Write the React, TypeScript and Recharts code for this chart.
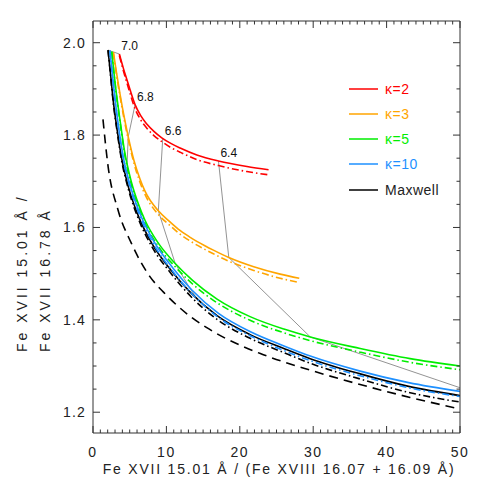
import React from 'react';
import { LineChart, Line, XAxis, YAxis } from 'recharts';

// curve values (x = 15.01/(16.07+16.09), y = 15.01/16.78)
const kappa2X = [3.59, 4.13, 4.6, 5.05, 5.73, 6.5, 7.33, 8.3, 9.37, 10.6, 11.87, 14.15, 17.09, 20.97, 23.92];
const kappa2Solid = [1.9755, 1.945, 1.921, 1.898, 1.866, 1.842, 1.824, 1.808, 1.794, 1.782, 1.772, 1.757, 1.744, 1.732, 1.725];
const kappa2Dash = [1.972, 1.94, 1.914, 1.89, 1.857, 1.833, 1.815, 1.799, 1.786, 1.773, 1.763, 1.747, 1.734, 1.721, 1.714];

const kappa3X = [2.77, 3.2, 3.7, 4.2, 4.82, 5.6, 6.4, 7.1, 8.9, 10.5, 11.9, 13.3, 15.3, 16.4, 18.5, 21.9, 25.5, 28.1];
const kappa3Solid = [1.98, 1.935, 1.887, 1.843, 1.795, 1.744, 1.705, 1.678, 1.636, 1.612, 1.593, 1.578, 1.56, 1.551, 1.535, 1.515, 1.499, 1.49];
const kappa3Dash = [1.978, 1.931, 1.882, 1.838, 1.789, 1.738, 1.698, 1.671, 1.628, 1.604, 1.585, 1.57, 1.552, 1.543, 1.527, 1.507, 1.49, 1.481];

const kappa5X = [2.55, 3.1, 3.7, 4.3, 5.2, 6.2, 7.1, 8.9, 11.2, 13.6, 16.9, 21.4, 26, 29.6, 36.4, 43.2, 50];
const kappa5Solid = [1.981, 1.901, 1.83, 1.765, 1.7, 1.65, 1.615, 1.566, 1.522, 1.485, 1.445, 1.407, 1.38, 1.363, 1.338, 1.316, 1.3];
const kappa5Dash = [1.98, 1.898, 1.826, 1.76, 1.694, 1.644, 1.609, 1.559, 1.515, 1.477, 1.437, 1.399, 1.372, 1.355, 1.33, 1.308, 1.292];

const kappa10X = [2.3, 2.65, 3.0, 3.55, 4.15, 5.05, 6.45, 8.25, 10.85, 13.5, 17.1, 21.6, 26.1, 29.7, 36.4, 43.0, 50];
const kappa10Solid = [1.983, 1.93, 1.878, 1.81, 1.75, 1.692, 1.628, 1.571, 1.513, 1.464, 1.414, 1.373, 1.343, 1.321, 1.289, 1.264, 1.245];
const kappa10Dash = [1.983, 1.928, 1.875, 1.806, 1.745, 1.687, 1.622, 1.564, 1.505, 1.456, 1.405, 1.364, 1.333, 1.311, 1.279, 1.253, 1.234];

const maxwellX = [2.05, 2.4, 2.73, 3.3, 3.9, 4.8, 6.2, 8.0, 10.6, 13.3, 16.9, 21.4, 26.0, 29.6, 36.4, 43.0, 50];
const maxwellSolid = [1.984, 1.93, 1.878, 1.81, 1.75, 1.689, 1.624, 1.566, 1.508, 1.459, 1.409, 1.368, 1.338, 1.316, 1.283, 1.256, 1.236];
const maxwellDash = [1.984, 1.928, 1.875, 1.806, 1.745, 1.684, 1.618, 1.559, 1.501, 1.451, 1.401, 1.36, 1.329, 1.306, 1.272, 1.243, 1.222];

const lowerX = [1.36, 2.05, 3.41, 5.22, 7.78, 9.6, 11.4, 13.2, 15.5, 17.8, 20.5, 22.8, 29.6, 36.4, 43.2, 50];
const lowerY = [1.834, 1.733, 1.638, 1.566, 1.493, 1.46, 1.432, 1.408, 1.383, 1.362, 1.342, 1.327, 1.291, 1.26, 1.232, 1.207];

// isotherms, from kappa=2 down to Maxwell
const isoLabels = ['7.0', '6.8', '6.6', '6.4'];
const iso70X = [3.59, 2.77, 2.55, 2.3, 2.05];
const iso70Y = [1.9755, 1.98, 1.981, 1.983, 1.984];
const iso68X = [5.73, 4.8, 4.65, 4.7, 4.8];
const iso68Y = [1.866, 1.796, 1.74, 1.715, 1.689];
const iso66X = [9.5, 8.9, 11.2, 13.1, 14.1];
const iso66Y = [1.792, 1.636, 1.522, 1.471, 1.447];
const iso64X = [17.09, 18.5, 29.6, 50];
const iso64Y = [1.744, 1.535, 1.363, 1.253];

const xMajor = [0, 10, 20, 30, 40, 50];
const yMajor = [1.2, 1.4, 1.6, 1.8, 2.0];
const xTicks = [0, 1, 2, 3, 4, 5, 6, 7, 8, 9, 10, 11, 12, 13, 14, 15, 16, 17, 18, 19, 20, 21, 22, 23, 24, 25,
  26, 27, 28, 29, 30, 31, 32, 33, 34, 35, 36, 37, 38, 39, 40, 41, 42, 43, 44, 45, 46, 47, 48, 49, 50];
const yTicks = [1.2, 1.25, 1.3, 1.35, 1.4, 1.45, 1.5, 1.55, 1.6, 1.65, 1.7, 1.75, 1.8, 1.85, 1.9, 1.95, 2.0];

const legendNames = ['κ=2', 'κ=3', 'κ=5', 'κ=10', 'Maxwell'];
const RED = '#ff0000';
const ORANGE = '#ffa500';
const GREEN = '#00ee00';
const BLUE = '#1e90ff';
const BLACK = '#000000';
const legendColors = [RED, ORANGE, GREEN, BLUE, BLACK];
const legendText = [RED, ORANGE, GREEN, BLUE, '#222'];

const FONT = '"Liberation Sans", Arial, sans-serif';
const AXIS = '#333';
const PLOT = { left: 93, right: 460, top: 21, bottom: 433 };
const DASHDOT = '7 3 1.5 3';

const pts = (xs: number[], ys: number[]) => xs.map((x, i) => ({ x, y: ys[i] }));
const near = (v: number, list: number[]) => list.some((m) => Math.abs(m - v) < 1e-6);

const BottomTick = (p: any) => {
  const v = p.payload.value;
  const major = near(v, xMajor);
  return (
    <g>
      <line x1={p.x} x2={p.x} y1={PLOT.bottom} y2={PLOT.bottom - (major ? 7 : 3.5)} stroke={AXIS} />
      {major && (
        <text x={p.x} y={PLOT.bottom + 24} textAnchor="middle" fontSize={14} fontFamily={FONT} fill="#222" letterSpacing={1.5}>
          {v}
        </text>
      )}
    </g>
  );
};

const TopTick = (p: any) => {
  const major = near(p.payload.value, xMajor);
  return <line x1={p.x} x2={p.x} y1={PLOT.top} y2={PLOT.top + (major ? 7 : 3.5)} stroke={AXIS} />;
};

const LeftTick = (p: any) => {
  const v = p.payload.value;
  const major = near(v, yMajor);
  return (
    <g>
      <line x1={PLOT.left} x2={PLOT.left + (major ? 7 : 3.5)} y1={p.y} y2={p.y} stroke={AXIS} />
      {major && (
        <text x={PLOT.left - 7} y={p.y + 5} textAnchor="end" fontSize={14} fontFamily={FONT} fill="#222" letterSpacing={1.2}>
          {v.toFixed(1)}
        </text>
      )}
    </g>
  );
};

const RightTick = (p: any) => {
  const major = near(p.payload.value, yMajor);
  return <line x1={PLOT.right} x2={PLOT.right - (major ? 7 : 3.5)} y1={p.y} y2={p.y} stroke={AXIS} />;
};

const XTitle = () => (
  <text x={279} y={474} textAnchor="middle" fontSize={14} fontFamily={FONT} fill="#222" letterSpacing={1.8}>
    Fe XVII 15.01 Å / (Fe XVIII 16.07 + 16.09 Å)
  </text>
);

const YTitle = () => (
  <g fontSize={14} fontFamily={FONT} fill="#222" letterSpacing={3}>
    <text transform="translate(27,352) rotate(-90)">Fe XVII 15.01 Å /</text>
    <text transform="translate(50,352) rotate(-90)">Fe XVII 16.78 Å</text>
  </g>
);

const isoLabel = (name: string) => (p: any) =>
  p.index === 0 ? (
    <text x={p.x + 2} y={p.y - 4} fontSize={12} fontFamily={FONT} fill="#111">
      {name}
    </text>
  ) : (
    <g />
  );

const series = [
  { key: 'k2s', data: pts(kappa2X, kappa2Solid), color: RED, dash: undefined },
  { key: 'k2d', data: pts(kappa2X, kappa2Dash), color: RED, dash: DASHDOT },
  { key: 'k3s', data: pts(kappa3X, kappa3Solid), color: ORANGE, dash: undefined },
  { key: 'k3d', data: pts(kappa3X, kappa3Dash), color: ORANGE, dash: DASHDOT },
  { key: 'k5s', data: pts(kappa5X, kappa5Solid), color: GREEN, dash: undefined },
  { key: 'k5d', data: pts(kappa5X, kappa5Dash), color: GREEN, dash: DASHDOT },
  { key: 'mxd', data: pts(maxwellX, maxwellDash), color: BLACK, dash: DASHDOT },
  { key: 'mxs', data: pts(maxwellX, maxwellSolid), color: BLACK, dash: undefined },
  { key: 'k10d', data: pts(kappa10X, kappa10Dash), color: BLUE, dash: DASHDOT },
  { key: 'k10s', data: pts(kappa10X, kappa10Solid), color: BLUE, dash: undefined },
  { key: 'low', data: pts(lowerX, lowerY), color: BLACK, dash: '9 6' },
];

const isotherms = [
  pts(iso70X, iso70Y),
  pts(iso68X, iso68Y),
  pts(iso66X, iso66Y),
  pts(iso64X, iso64Y),
];

const Legend = () => (
  <div style={{ position: 'absolute', left: 349, top: 76, fontFamily: FONT, fontSize: 14 }}>
    {legendNames.map((n, i) => (
      <div key={n} style={{ display: 'flex', alignItems: 'center', height: 25.25 }}>
        <svg width={29} height={4} style={{ marginRight: 7 }}>
          <line x1={0} x2={29} y1={2} y2={2} stroke={legendColors[i]} strokeWidth={1.5} />
        </svg>
        <span style={{ color: legendText[i], letterSpacing: 0.5 }}>{n}</span>
      </div>
    ))}
  </div>
);

export default function App() {
  return (
    <div style={{ position: 'absolute', left: 0, top: 0, width: 480, height: 480, background: '#fff' }}>
      <LineChart width={480} height={480} margin={{ top: 0, right: 0, bottom: 0, left: 0 }}>
        <XAxis
          xAxisId="b"
          type="number"
          dataKey="x"
          domain={[0, 50]}
          ticks={xTicks}
          interval={0}
          height={47}
          stroke={AXIS}
          tickLine={false}
          tick={BottomTick}
          label={XTitle}
          allowDataOverflow
        />
        <XAxis
          xAxisId="t"
          orientation="top"
          type="number"
          dataKey="x"
          domain={[0, 50]}
          ticks={xTicks}
          interval={0}
          height={21}
          stroke={AXIS}
          tickLine={false}
          tick={TopTick}
          allowDataOverflow
        />
        <YAxis
          yAxisId="l"
          type="number"
          dataKey="y"
          domain={[1.155, 2.047]}
          ticks={yTicks}
          interval={0}
          width={93}
          stroke={AXIS}
          tickLine={false}
          tick={LeftTick}
          label={YTitle}
          allowDataOverflow
        />
        <YAxis
          yAxisId="r"
          orientation="right"
          type="number"
          dataKey="y"
          domain={[1.155, 2.047]}
          ticks={yTicks}
          interval={0}
          width={20}
          stroke={AXIS}
          tickLine={false}
          tick={RightTick}
          allowDataOverflow
        />
        {isotherms.map((d, i) => (
          <Line
            key={'iso' + i}
            xAxisId="b"
            yAxisId="l"
            data={d}
            dataKey="y"
            stroke="#777"
            strokeWidth={0.8}
            dot={false}
            activeDot={false}
            label={isoLabel(isoLabels[i])}
            isAnimationActive={false}
          />
        ))}
        {series.map((s) => (
          <Line
            key={s.key}
            type="monotone"
            xAxisId="b"
            yAxisId="l"
            data={s.data}
            dataKey="y"
            stroke={s.color}
            strokeWidth={1.6}
            strokeDasharray={s.dash}
            dot={false}
            activeDot={false}
            isAnimationActive={false}
          />
        ))}
      </LineChart>
      <Legend />
    </div>
  );
}
